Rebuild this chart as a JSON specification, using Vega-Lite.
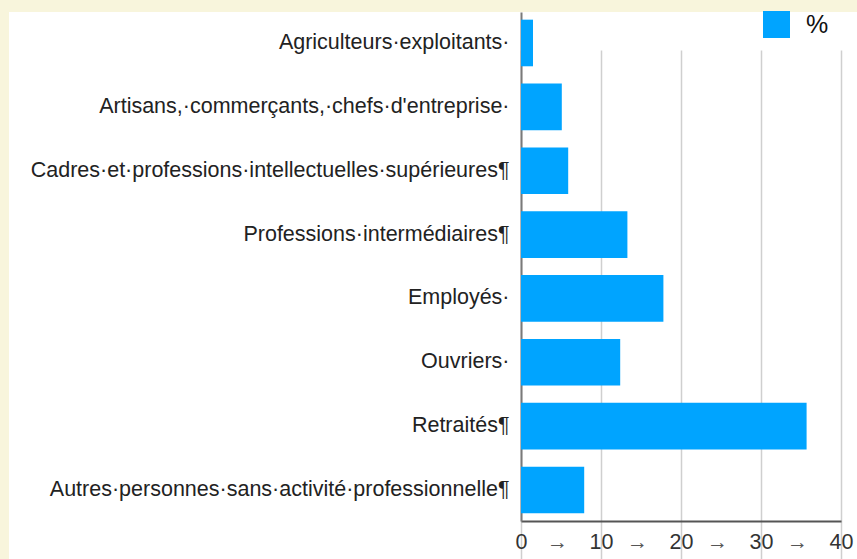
{
  "$schema": "https://vega.github.io/schema/vega-lite/v6.json",
  "autosize": {"type": "none"},
  "padding": {"left": 9, "top": 12, "right": 0, "bottom": 0},
  "width": 848,
  "height": 547,
  "background": "#f8f5dc",
  "view": {"fill": "white", "stroke": null},
  "config": {"font": "Liberation Sans"},
  "data": {
    "values": [
      {"categorie": "Agriculteurs·exploitants·", "pct": 1.5},
      {"categorie": "Artisans,·commerçants,·chefs·d'entreprise·", "pct": 5.1},
      {"categorie": "Cadres·et·professions·intellectuelles·supérieures¶", "pct": 5.9},
      {"categorie": "Professions·intermédiaires¶", "pct": 13.3},
      {"categorie": "Employés·", "pct": 17.8},
      {"categorie": "Ouvriers·", "pct": 12.4},
      {"categorie": "Retraités¶", "pct": 35.7},
      {"categorie": "Autres·personnes·sans·activité·professionnelle¶", "pct": 7.9}
    ]
  },
  "mark": {"type": "bar"},
  "encoding": {
    "y": {
      "field": "categorie",
      "type": "nominal",
      "sort": null,
      "scale": {"range": [0, 509], "paddingInner": 0.27, "paddingOuter": 0.12},
      "axis": {
        "title": null,
        "offset": -512,
        "ticks": false,
        "grid": false,
        "domain": true,
        "domainColor": "#7a7a7a",
        "domainWidth": 2,
        "labelFont": "Liberation Sans",
        "labelFontSize": 21.5,
        "labelColor": "#222222",
        "labelPadding": 12,
        "labelLimit": 0
      }
    },
    "x": {
      "field": "pct",
      "type": "quantitative",
      "scale": {"domain": [0, 40], "range": [512, 832], "nice": false},
      "axis": {
        "title": null,
        "orient": "bottom",
        "offset": -38,
        "values": [0, 4.5, 10, 14.5, 20, 24.5, 30, 34.5, 40],
        "labelExpr": "datum.value % 10 === 0 ? datum.label : '→'",
        "ticks": false,
        "domain": true,
        "domainColor": "#555555",
        "domainWidth": 2,
        "grid": true,
        "gridColor": "#cfcfcf",
        "gridWidth": 1.5,
        "gridOpacity": {"condition": {"test": "datum.value % 10 !== 0", "value": 0}, "value": 1},
        "labelFont": "Liberation Sans",
        "labelFontSize": {"condition": {"test": "datum.value % 10 !== 0", "value": 21}, "value": 21.5},
        "labelColor": {"condition": {"test": "datum.value % 10 !== 0", "value": "#555555"}, "value": "#333333"},
        "labelBaseline": "middle",
        "labelPadding": 21,
        "labelFlush": false,
        "labelOverlap": false
      }
    },
    "color": {
      "datum": "%",
      "type": "nominal",
      "scale": {"range": ["#00a4ff"]},
      "legend": {
        "orient": "none",
        "legendX": 754,
        "legendY": -1,
        "title": null,
        "padding": 0,
        "symbolType": "square",
        "symbolSize": 729,
        "symbolStrokeWidth": 0,
        "labelFont": "Liberation Sans",
        "labelFontSize": 25,
        "labelColor": "#111111",
        "labelOffset": 16
      }
    }
  }
}
